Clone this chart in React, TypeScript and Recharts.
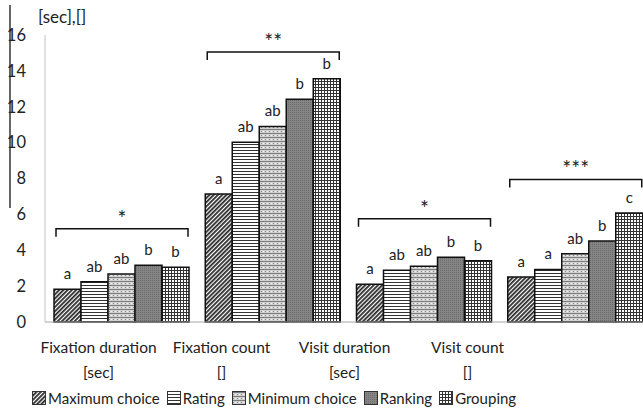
import React from 'react';
import { BarChart, Bar, XAxis, YAxis, Legend, LabelList } from 'recharts';

const CATEGORIES = ['Fixation duration', 'Fixation count', 'Visit duration', 'Visit count'];
const UNITS = ['[sec]', '[]', '[sec]', '[]'];

const MAXIMUM_CHOICE = [1.82, 7.13, 2.1, 2.51];
const RATING = [2.24, 10.02, 2.89, 2.93];
const MINIMUM_CHOICE = [2.68, 10.9, 3.11, 3.8];
const RANKING = [3.16, 12.42, 3.61, 4.51];
const GROUPING = [3.05, 13.56, 3.41, 6.07];

// post-hoc group letters per method
const MAXIMUM_LETTERS = ['a', 'a', 'a', 'a'];
const RATING_LETTERS = ['ab', 'ab', 'ab', 'a'];
const MINIMUM_LETTERS = ['ab', 'ab', 'ab', 'ab'];
const RANKING_LETTERS = ['b', 'b', 'b', 'b'];
const GROUPING_LETTERS = ['b', 'b', 'b', 'c'];

// significance marks and the height of the bracket over each group
const SIGNIFICANCE = ['*', '**', '*', '***'];
const BRACKET_LEVEL = [5.2, 15.05, 5.75, 7.95];

const Y_TICKS = [0, 2, 4, 6, 8, 10, 12, 14, 16];

const FONT = 'Lato, sans-serif';
const INK = '#222';

const SERIES = [
  { key: 'maximum', label: 'Maximum choice', fill: 'url(#pat-diag)', letters: 'maximumLetter' },
  { key: 'rating', label: 'Rating', fill: 'url(#pat-hlines)', letters: 'ratingLetter' },
  { key: 'minimum', label: 'Minimum choice', fill: 'url(#pat-speckle)', letters: 'minimumLetter' },
  { key: 'ranking', label: 'Ranking', fill: 'url(#pat-gray)', letters: 'rankingLetter' },
  { key: 'grouping', label: 'Grouping', fill: 'url(#pat-grid)', letters: 'groupingLetter' },
];

const data = CATEGORIES.map((name, i) => ({
  name,
  unit: UNITS[i],
  maximum: MAXIMUM_CHOICE[i],
  rating: RATING[i],
  minimum: MINIMUM_CHOICE[i],
  ranking: RANKING[i],
  grouping: GROUPING[i],
  maximumLetter: MAXIMUM_LETTERS[i],
  ratingLetter: RATING_LETTERS[i],
  minimumLetter: MINIMUM_LETTERS[i],
  rankingLetter: RANKING_LETTERS[i],
  groupingLetter: GROUPING_LETTERS[i],
  bracket: BRACKET_LEVEL[i],
}));

function Patterns() {
  return (
    <svg width={0} height={0} style={{ position: 'absolute' }}>
      <defs>
        <pattern id="pat-diag" width={3} height={3} patternUnits="userSpaceOnUse" patternTransform="rotate(-45)">
          <rect width={3} height={3} fill="#fff" />
          <rect width={3} height={1.8} fill="#2a2a2a" />
        </pattern>
        <pattern id="pat-hlines" width={4} height={3} patternUnits="userSpaceOnUse">
          <rect width={4} height={3} fill="#fff" />
          <rect width={4} height={1} fill="#333" />
        </pattern>
        <pattern id="pat-speckle" width={4} height={4} patternUnits="userSpaceOnUse">
          <rect width={4} height={4} fill="#d2d2d2" />
          <path d="M0,1 L1,2 L2,1 L3,2 L4,1" stroke="#666" strokeWidth={0.8} fill="none" />
          <rect x={1} y={3} width={1} height={1} fill="#888" />
          <rect x={3} y={3} width={1} height={1} fill="#f4f4f4" />
        </pattern>
        <pattern id="pat-gray" width={2} height={2} patternUnits="userSpaceOnUse">
          <rect width={2} height={2} fill="#858585" />
          <rect width={1} height={1} fill="#6a6a6a" />
        </pattern>
        <pattern id="pat-grid" width={3} height={3} patternUnits="userSpaceOnUse">
          <rect width={3} height={3} fill="#fff" />
          <rect width={3} height={1} fill="#333" />
          <rect width={1} height={3} fill="#333" />
        </pattern>
      </defs>
    </svg>
  );
}

function Bracket(props: any) {
  const vb = props.viewBox || props;
  const { x, y, width, height } = vb;
  const index = props.index;
  if (x == null || index == null) return null;
  const base = y + height;
  const perUnit = height / MAXIMUM_CHOICE[index];
  const by = base - props.value * perUnit;
  const left = x + 2;
  const right = x + width * SERIES.length - 1;
  return (
    <g>
      <path d={`M${left},${by + 8}V${by}H${right}V${by + 8}`} stroke="#111" strokeWidth={1.5} fill="none" />
      <text x={(left + right) / 2} y={by - 3} textAnchor="middle" fontSize={21} fill={INK} fontFamily={FONT}>
        {SIGNIFICANCE[index]}
      </text>
    </g>
  );
}

function CategoryTick({ x, y, payload, index }: any) {
  return (
    <text x={x} y={y} textAnchor="middle" fontSize={15.5} fill={INK} fontFamily={FONT}>
      <tspan x={x} dy={31}>{payload.value}</tspan>
      <tspan x={x} dy={25}>{UNITS[index]}</tspan>
    </text>
  );
}

function LegendContent() {
  return (
    <div style={{ display: 'flex', alignItems: 'center', fontFamily: FONT, fontSize: 15, color: INK, height: 24 }}>
      {SERIES.map((s) => (
        <div key={s.key} style={{ display: 'flex', alignItems: 'center', marginRight: 7 }}>
          <svg width={14} height={14} style={{ marginRight: 2 }}>
            <rect x={0.5} y={0.5} width={13} height={13} fill={s.fill} stroke="#333" strokeWidth={1} />
          </svg>
          <span>{s.label}</span>
        </div>
      ))}
    </div>
  );
}

function AxisUnitLabel({ viewBox }: any) {
  return (
    <text x={viewBox.x + 38} y={viewBox.y - 12} fontSize={17} fill={INK} fontFamily={FONT}>
      [sec],[]
    </text>
  );
}

export default function App() {
  return (
    <div style={{ position: 'absolute', left: 0, top: 0, width: 643, height: 416, overflow: 'hidden', background: '#fff' }}>
      <Patterns />
      <div style={{ position: 'absolute', left: 9, top: 5, width: 2, height: 203, background: '#666' }} />
      <BarChart
        width={650}
        height={416}
        data={data}
        margin={{ top: 35, right: 0, bottom: 6, left: 0 }}
        barCategoryGap={9}
        barGap={0}
      >
        <XAxis dataKey="name" hide height={0} />
        <XAxis
          xAxisId="names"
          dataKey="name"
          padding={{ left: -8, right: 121 }}
          axisLine={{ stroke: '#a6a6a6' }}
          tickLine={false}
          tickSize={0}
          tickMargin={0}
          interval={0}
          height={64}
          tick={<CategoryTick />}
        />
        <YAxis
          domain={[0, 16]}
          ticks={Y_TICKS}
          width={45}
          axisLine={{ stroke: '#c4c4c4' }}
          tickLine={false}
          tickSize={6}
          tickMargin={13}
          tick={{ fontSize: 16.5, fill: INK, fontFamily: FONT }}
          label={<AxisUnitLabel />}
        />
        <Legend
          verticalAlign="bottom"
          align="left"
          wrapperStyle={{ left: 32 }}
          content={<LegendContent />}
        />
        {SERIES.map((s, i) => (
          <Bar key={s.key} dataKey={s.key} name={s.label} fill={s.fill} stroke="#111" strokeWidth={1.5} isAnimationActive={false}>
            <LabelList dataKey={s.letters} position="top" offset={10} fontSize={15} fill={INK} fontFamily={FONT} />
            {i === 0 && <LabelList dataKey="bracket" content={<Bracket />} />}
          </Bar>
        ))}
      </BarChart>
    </div>
  );
}
